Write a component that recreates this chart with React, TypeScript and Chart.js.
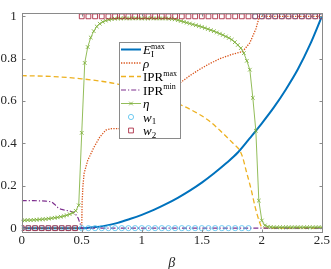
import { useEffect, useRef } from "react";
import { Chart, registerables } from "chart.js";

Chart.register(...registerables);

const xTicks = [0, 0.5, 1, 1.5, 2, 2.5];
const yTicks = [0, 0.2, 0.4, 0.6, 0.8, 1];
const xTickLabels = ["0", "0.5", "1", "1.5", "2", "2.5"];
const yTickLabels = ["0", "0.2", "0.4", "0.6", "0.8", "1"];

// E_I^max
const eBeta = [0, 0.5, 0.6, 0.7, 0.8, 0.9, 1.0, 1.1, 1.2, 1.3, 1.4, 1.5, 1.6, 1.7, 1.8, 1.9, 2.0, 2.1, 2.2, 2.3, 2.4, 2.5];
const eVal = [0, 0, 0.004, 0.012, 0.025, 0.043, 0.063, 0.086, 0.113, 0.143, 0.177, 0.215, 0.258, 0.305, 0.357, 0.425, 0.495, 0.57, 0.655, 0.75, 0.865, 1.0];

// rho
const rhoBeta = [0, 0.5, 0.503, 0.51, 0.52, 0.55, 0.6, 0.65, 0.7, 0.75, 0.85, 1.1, 1.32, 1.4, 1.48, 1.56, 1.65, 1.75, 1.84, 1.9, 1.95, 1.98, 2.5];
const rhoVal = [0, 0, 0.12, 0.2, 0.26, 0.32, 0.38, 0.43, 0.463, 0.47, 0.47, 0.6, 0.686, 0.72, 0.749, 0.775, 0.8, 0.82, 0.834, 0.875, 0.94, 1.0, 1.0];

// IPR^max
const iprMaxBeta = [0, 0.25, 0.5, 0.8, 1.05, 1.34, 1.48, 1.56, 1.65, 1.77, 1.813, 1.84, 1.87, 1.91, 1.946, 1.98, 2.0, 2.05, 2.5];
const iprMaxVal = [0.72, 0.716, 0.705, 0.68, 0.64, 0.578, 0.537, 0.507, 0.462, 0.395, 0.37, 0.335, 0.27, 0.185, 0.096, 0.03, 0.005, 0, 0];

// IPR^min
const iprMinBeta = [0, 0.1, 0.2, 0.25, 0.275, 0.3, 0.325, 0.35, 0.4, 0.44, 0.47, 0.5, 2.5];
const iprMinVal = [0.13, 0.13, 0.128, 0.124, 0.112, 0.098, 0.09, 0.086, 0.081, 0.073, 0.048, 0, 0];

// eta
const etaBeta = [
  0, 0.025, 0.05, 0.075, 0.1, 0.125, 0.15, 0.175, 0.2, 0.225,
  0.25, 0.275, 0.3, 0.325, 0.35, 0.375, 0.4, 0.425, 0.45, 0.475,
  0.5, 0.525, 0.55, 0.575, 0.6, 0.625, 0.65, 0.675, 0.7, 0.725,
  0.75, 0.775, 0.8, 0.825, 0.85, 0.875, 0.9, 0.925, 0.95, 0.975,
  1.0, 1.025, 1.05, 1.075, 1.1, 1.125, 1.15, 1.175, 1.2, 1.225,
  1.25, 1.275, 1.3, 1.325, 1.35, 1.375, 1.4, 1.425, 1.45, 1.475,
  1.5, 1.525, 1.55, 1.575, 1.6, 1.625, 1.65, 1.675, 1.7, 1.725,
  1.75, 1.775, 1.8, 1.825, 1.85, 1.875, 1.9, 1.925, 1.95, 1.975,
  2.0, 2.025, 2.05, 2.075, 2.1, 2.125, 2.15, 2.175, 2.2, 2.225,
  2.25, 2.275, 2.3, 2.325, 2.35, 2.375, 2.4, 2.425, 2.45, 2.475,
  2.5,
];
const etaVal = [
  0.037, 0.037, 0.038, 0.038, 0.039, 0.04, 0.041, 0.042, 0.043, 0.045,
  0.047, 0.049, 0.051, 0.054, 0.057, 0.061, 0.066, 0.072, 0.082, 0.108,
  0.45, 0.78, 0.855, 0.9, 0.93, 0.952, 0.965, 0.974, 0.98, 0.984,
  0.987, 0.989, 0.99, 0.99, 0.991, 0.99, 0.99, 0.99, 0.991, 0.99,
  0.99, 0.99, 0.99, 0.991, 0.99, 0.99, 0.99, 0.99, 0.99, 0.989,
  0.988, 0.986, 0.982, 0.978, 0.974, 0.97, 0.966, 0.962, 0.958, 0.954,
  0.95, 0.945, 0.94, 0.935, 0.93, 0.924, 0.918, 0.912, 0.905, 0.898,
  0.89, 0.878, 0.865, 0.85, 0.826, 0.79, 0.748, 0.615, 0.46, 0.13,
  0.036, 0.013, 0.007, 0.005, 0.004, 0.004, 0.004, 0.004, 0.004, 0.004,
  0.004, 0.004, 0.004, 0.004, 0.004, 0.004, 0.004, 0.004, 0.004, 0.004,
  0.004,
];

// w1, w2
const wBeta = [
  0, 0.0556, 0.1111, 0.1667, 0.2222, 0.2778, 0.3333, 0.3889, 0.4444, 0.5,
  0.5556, 0.6111, 0.6667, 0.7222, 0.7778, 0.8333, 0.8889, 0.9444, 1, 1.0556,
  1.1111, 1.1667, 1.2222, 1.2778, 1.3333, 1.3889, 1.4444, 1.5, 1.5556, 1.6111,
  1.6667, 1.7222, 1.7778, 1.8333, 1.8889, 1.9444, 2, 2.0556, 2.1111, 2.1667,
  2.2222, 2.2778, 2.3333, 2.3889, 2.4444, 2.5,
];
const w1Val = [
  0, 0, 0, 0, 0, 0, 0, 0, 0, 0,
  0, 0, 0, 0, 0, 0, 0, 0, 0, 0,
  0, 0, 0, 0, 0, 0, 0, 0, 0, 0,
  0, 0, 0, 0, 0, 1, 1, 1, 1, 1,
  1, 1, 1, 1, 1, 1,
];
const w2Val = [
  0, 0, 0, 0, 0, 0, 0, 0, 0, 1,
  1, 1, 1, 1, 1, 1, 1, 1, 1, 1,
  1, 1, 1, 1, 1, 1, 1, 1, 1, 1,
  1, 1, 1, 1, 1, 1, 1, 1, 1, 1,
  1, 1, 1, 1, 1, 1,
];

const C_E = "#0072BD";
const C_RHO = "#D95319";
const C_IMAX = "#EDB120";
const C_IMIN = "#7E2F8E";
const C_ETA = "#77AC30";
const C_W1 = "#4DBEEE";
const C_W2 = "#A2142F";
const FRAME = "#8a8a8a";
const SERIF = "'Liberation Serif', 'DejaVu Serif', serif";

const pts = (xs: number[], ys: number[]) => xs.map((x, i) => ({ x, y: ys[i] }));

type Part = { t: string; it?: boolean; size: number; dy: number; sameX?: boolean };

function drawRich(ctx: CanvasRenderingContext2D, parts: Part[], x: number, y: number) {
  let cx = x;
  let groupStart = x;
  let groupMax = x;
  for (const p of parts) {
    ctx.font = `${p.it ? "italic " : ""}${p.size}px ${SERIF}`;
    const start = p.sameX ? groupStart : cx;
    if (!p.sameX) groupStart = cx;
    ctx.fillText(p.t, start, y + p.dy);
    const end = start + ctx.measureText(p.t).width;
    if (p.sameX) {
      groupMax = Math.max(groupMax, end);
      cx = groupMax;
    } else {
      groupMax = end;
      cx = end;
    }
  }
}

const framePlugin = {
  id: "frameAndLegend",
  afterDraw(chart: any) {
    const { ctx, chartArea: a, scales } = chart;
    const xs = scales.x;
    const ys = scales.y;
    ctx.save();
    // frame
    ctx.strokeStyle = FRAME;
    ctx.lineWidth = 1;
    const L = Math.round(a.left) + 0.5;
    const R = Math.round(a.right) + 0.5;
    const T = Math.round(a.top) + 0.5;
    const B = Math.round(a.bottom) + 0.5;
    ctx.strokeRect(L, T, R - L, B - T);
    ctx.beginPath();
    for (const v of xTicks) {
      const px = Math.round(xs.getPixelForValue(v)) + 0.5;
      ctx.moveTo(px, B);
      ctx.lineTo(px, B - 3);
      ctx.moveTo(px, T);
      ctx.lineTo(px, T + 3);
    }
    for (const v of yTicks) {
      const py = Math.round(ys.getPixelForValue(v)) + 0.5;
      ctx.moveTo(L, py);
      ctx.lineTo(L + 3, py);
      ctx.moveTo(R, py);
      ctx.lineTo(R - 3, py);
    }
    ctx.stroke();

    // x-axis title
    ctx.fillStyle = "#262626";
    ctx.font = `italic 14px ${SERIF}`;
    ctx.textAlign = "center";
    ctx.textBaseline = "alphabetic";
    ctx.fillText("β", (a.left + a.right) / 2, 267);

    // legend
    const bx = 119.5, by = 42.5, bw = 61, bh = 96;
    ctx.fillStyle = "#ffffff";
    ctx.fillRect(bx, by, bw, bh);
    ctx.strokeStyle = FRAME;
    ctx.strokeRect(bx, by, bw, bh);
    const x0 = 121, x1 = 141, xm = 131, tx = 143;
    const rowY = (i: number) => 49.5 + 13.5 * i;
    const line = (i: number, color: string, w: number, dash: number[]) => {
      ctx.beginPath();
      ctx.strokeStyle = color;
      ctx.lineWidth = w;
      ctx.setLineDash(dash);
      ctx.moveTo(x0, rowY(i));
      ctx.lineTo(x1, rowY(i));
      ctx.stroke();
      ctx.setLineDash([]);
    };
    line(0, C_E, 2, []);
    line(1, C_RHO, 1.3, [1.3, 1.3]);
    line(2, C_IMAX, 1.3, [5, 3]);
    line(3, C_IMIN, 1.2, [5, 2, 1.2, 2]);
    line(4, C_ETA, 0.8, []);
    ctx.beginPath();
    ctx.strokeStyle = C_ETA;
    ctx.lineWidth = 0.8;
    const s = 1.8;
    ctx.moveTo(xm - s, rowY(4) - s);
    ctx.lineTo(xm + s, rowY(4) + s);
    ctx.moveTo(xm - s, rowY(4) + s);
    ctx.lineTo(xm + s, rowY(4) - s);
    ctx.stroke();
    ctx.beginPath();
    ctx.strokeStyle = C_W1;
    ctx.arc(xm, rowY(5), 2.6, 0, Math.PI * 2);
    ctx.stroke();
    ctx.beginPath();
    ctx.strokeStyle = C_W2;
    ctx.rect(xm - 2.4, rowY(6) - 2.4, 4.8, 4.8);
    ctx.stroke();

    ctx.fillStyle = "#000000";
    ctx.textAlign = "left";
    ctx.textBaseline = "alphabetic";
    const base = (i: number) => rowY(i) + 4.5;
    drawRich(ctx, [
      { t: "E", it: true, size: 13, dy: 0 },
      { t: "I", size: 9, dy: 2.5 },
      { t: "max", size: 8, dy: -5.5, sameX: true },
    ], tx, base(0));
    drawRich(ctx, [{ t: "ρ", it: true, size: 13, dy: 0 }], tx, base(1));
    drawRich(ctx, [
      { t: "IPR", size: 13, dy: 0 },
      { t: "max", size: 8, dy: -5.5 },
    ], tx, base(2));
    drawRich(ctx, [
      { t: "IPR", size: 13, dy: 0 },
      { t: "min", size: 8, dy: -5.5 },
    ], tx, base(3));
    drawRich(ctx, [{ t: "η", it: true, size: 13, dy: 0 }], tx, base(4));
    drawRich(ctx, [
      { t: "w", it: true, size: 13, dy: 0 },
      { t: "1", size: 9, dy: 2.5 },
    ], tx, base(5));
    drawRich(ctx, [
      { t: "w", it: true, size: 13, dy: 0 },
      { t: "2", size: 9, dy: 2.5 },
    ], tx, base(6));
    ctx.restore();
  },
};

export default function App() {
  const ref = useRef<HTMLCanvasElement | null>(null);
  useEffect(() => {
    if (!ref.current) return;
    const chart = new Chart(ref.current, {
      type: "line",
      data: {
        datasets: [
          {
            label: "E_I^max",
            data: pts(eBeta, eVal),
            borderColor: C_E,
            borderWidth: 2,
            pointRadius: 0,
            cubicInterpolationMode: "monotone",
            order: 7,
          },
          {
            label: "rho",
            data: pts(rhoBeta, rhoVal),
            borderColor: C_RHO,
            borderWidth: 1.3,
            borderDash: [1.3, 1.3],
            pointRadius: 0,
            tension: 0,
            order: 6,
          },
          {
            label: "IPR^max",
            data: pts(iprMaxBeta, iprMaxVal),
            borderColor: C_IMAX,
            borderWidth: 1.3,
            borderDash: [5, 3],
            pointRadius: 0,
            cubicInterpolationMode: "monotone",
            order: 5,
          },
          {
            label: "IPR^min",
            data: pts(iprMinBeta, iprMinVal),
            borderColor: C_IMIN,
            borderWidth: 1.2,
            borderDash: [5, 2, 1.2, 2],
            pointRadius: 0,
            tension: 0,
            order: 4,
          },
          {
            label: "eta",
            data: pts(etaBeta, etaVal),
            borderColor: C_ETA,
            borderWidth: 0.8,
            pointStyle: "crossRot",
            pointRadius: 2.6,
            pointBorderWidth: 0.8,
            pointBorderColor: C_ETA,
            pointBackgroundColor: C_ETA,
            tension: 0,
            order: 3,
          },
          {
            label: "w1",
            data: pts(wBeta, w1Val),
            showLine: false,
            borderColor: C_W1,
            pointStyle: "circle",
            pointRadius: 2.6,
            pointBorderWidth: 0.8,
            pointBorderColor: C_W1,
            pointBackgroundColor: "rgba(0,0,0,0)",
            order: 2,
          },
          {
            label: "w2",
            data: pts(wBeta, w2Val),
            showLine: false,
            borderColor: C_W2,
            pointStyle: "rect",
            pointRadius: 3.4,
            pointBorderWidth: 0.8,
            pointBorderColor: C_W2,
            pointBackgroundColor: "rgba(0,0,0,0)",
            order: 1,
          },
        ],
      },
      options: {
        responsive: false,
        animation: false,
        events: [],
        layout: { padding: { left: 0, right: 8.5, top: 1.7, bottom: 0 } },
        plugins: { legend: { display: false }, tooltip: { enabled: false } },
        scales: {
          x: {
            type: "linear",
            min: 0,
            max: 2.5,
            grid: { display: false, drawTicks: false },
            border: { display: false },
            afterBuildTicks: (sc: any) => {
              sc.ticks = xTicks.map((v) => ({ value: v }));
            },
            afterFit: (sc: any) => {
              sc.height = 37.3;
            },
            ticks: {
              padding: 1,
              color: "#262626",
              font: { family: SERIF, size: 13 },
              maxRotation: 0,
              autoSkip: false,
              callback: (v: any) => xTickLabels[xTicks.indexOf(Number(v))] ?? "",
            },
          },
          y: {
            type: "linear",
            min: -0.0167,
            max: 1.0167,
            grid: { display: false, drawTicks: false },
            border: { display: false },
            afterBuildTicks: (sc: any) => {
              sc.ticks = yTicks.map((v) => ({ value: v }));
            },
            afterFit: (sc: any) => {
              sc.width = 21.7;
            },
            ticks: {
              padding: 5,
              color: "#262626",
              font: { family: SERIF, size: 13 },
              autoSkip: false,
              callback: (v: any) => yTickLabels[yTicks.indexOf(Number(v))] ?? "",
            },
          },
        },
      },
      plugins: [framePlugin],
    } as any);
    return () => chart.destroy();
  }, []);
  return (
    <div style={{ position: "fixed", left: 0, top: 0, width: 331, height: 269, background: "#fff" }}>
      <canvas ref={ref} width={331} height={269} style={{ display: "block" }} />
    </div>
  );
}
